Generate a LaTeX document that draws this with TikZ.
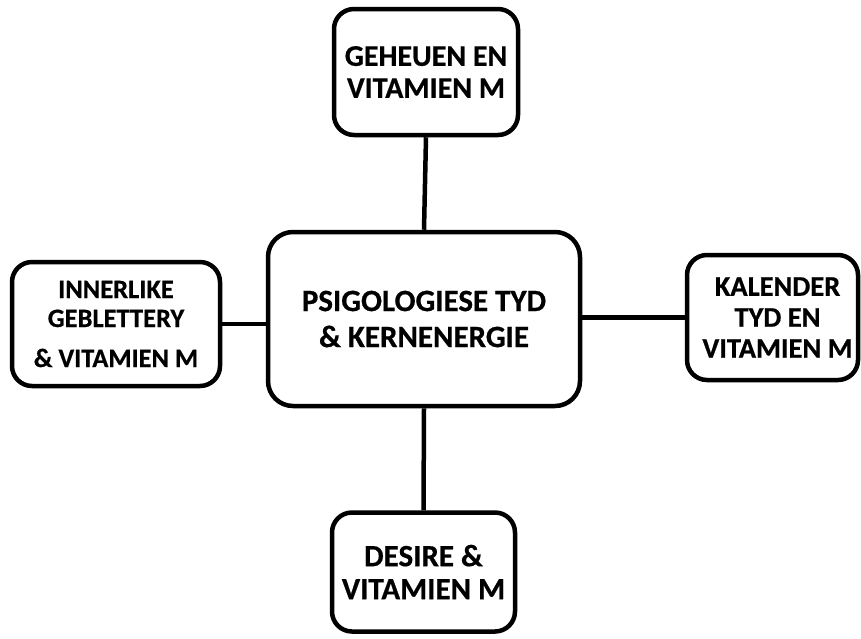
\documentclass[tikz,border=0pt]{standalone}
\usepackage{fontspec}
\setmainfont{Carlito}[BoldFeatures={FakeBold=0.6}]
\begin{document}
\begin{tikzpicture}[x=1pt,y=-1pt,
  box/.style={draw=black, line width=4.5pt, rounded corners=20pt, fill=white,
    align=center, font=\bfseries\fontsize{30}{33}\selectfont, inner sep=0pt},
  link/.style={line width=4.5pt}]
\useasboundingbox (0,0) rectangle (861,638);
\node[box, minimum width=312pt, minimum height=174pt, rounded corners=25pt,
  font=\bfseries\fontsize{31}{36}\selectfont] (c) at (424,319) {PSIGOLOGIESE TYD\\\& KERNENERGIE};
\node[box, minimum width=184pt, minimum height=126pt,
  font=\bfseries\fontsize{30}{32}\selectfont] (t) at (426,72) {GEHEUEN EN\\VITAMIEN M};
\node[box, minimum width=208pt, minimum height=124pt,
  font=\bfseries\fontsize{26.5}{29}\selectfont] (l) at (116,324) {INNERLIKE\\GEBLETTERY\\[11pt]\& VITAMIEN M};
\node[box, minimum width=171pt, minimum height=125pt,
  font=\bfseries\fontsize{28.5}{31}\selectfont] (r) at (772.5,317.5) {\hspace*{10pt}KALENDER\\\hspace*{10pt}TYD EN\\\hspace*{10pt}VITAMIEN M};
\node[box, minimum width=183pt, minimum height=119pt,
  font=\bfseries\fontsize{31}{33}\selectfont] (b) at (423.5,572) {DESIRE \&\\VITAMIEN M};
\draw[link] (t.south) -- (c.north);
\draw[link] (b.north) -- (c.south);
\draw[link] (l.east) -- (l.east -| c.west);
\draw[link] (r.west) -- (r.west -| c.east);
\end{tikzpicture}
\end{document}
